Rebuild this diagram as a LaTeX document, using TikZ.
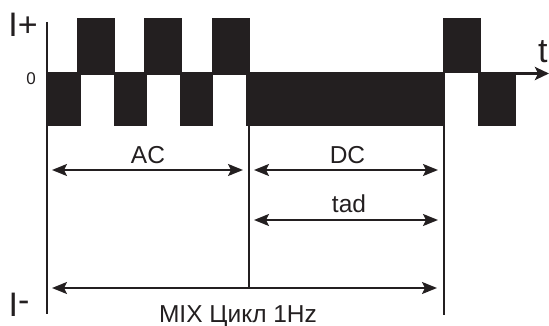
\documentclass[tikz,border=0pt]{standalone}
\usepackage{fontspec}
\setmainfont{Liberation Sans}
\usetikzlibrary{arrows.meta}
\definecolor{ink}{HTML}{231F20}
\begin{document}
\begin{tikzpicture}[x=1pt,y=-1pt,
  blk/.style={fill=ink,draw=none},
  axisline/.style={draw=ink,line width=2pt},
  dim/.style={draw=ink,line width=2pt,{Stealth[length=15pt,width=12pt,inset=3pt]}-{Stealth[length=15pt,width=12pt,inset=3pt]},shorten <=5pt,shorten >=6pt},
  lbl/.style={text=ink,inner sep=0pt,anchor=base,font=\fontsize{24.5}{24.5}\selectfont},
  big/.style={text=ink,inner sep=0pt,anchor=base,font=\fontsize{34}{34}\selectfont}]
\useasboundingbox (0,0) rectangle (549,326);
% blocks
\foreach \a/\b in {77/115,144/182,212/250,443/481}
  \fill[blk] (\a,18) rectangle (\b,73);
\foreach \a/\b in {47/81,114/147,180/213,246/443,478/516}
  \fill[blk] (\a,73) rectangle (\b,126);
% coordinates
\coordinate (o) at (47,73.5);
\coordinate (gapL) at (443,73.5);
\coordinate (gapR) at (478,73.5);
\coordinate (tend) at (549,73.5);
\coordinate (vtop) at (47,22);
\coordinate (vbot) at (47,314);
\coordinate (m1) at (249,126);
\coordinate (m2) at (249,288);
\coordinate (r1) at (444,73);
\coordinate (r2) at (444,315);
\coordinate (acL) at (47,170);
\coordinate (acR) at (249,170);
\coordinate (dcL) at (249,170);
\coordinate (dcR) at (444,170);
\coordinate (tdL) at (249,220);
\coordinate (tdR) at (444,220);
\coordinate (mxL) at (47,288);
\coordinate (mxR) at (444,288);
% axes
\draw[draw=ink,line width=3pt] (o) -- (gapL);
\draw[draw=ink,line width=3pt,-{Stealth[length=14pt,width=13pt,inset=3pt]}] (gapR) -- (tend);
\draw[axisline] (vtop) -- (vbot);
\draw[axisline] (m1) -- (m2);
\draw[axisline] (r1) -- (r2);
% dimension arrows
\draw[dim] (acL) -- (acR);
\draw[dim] (dcL) -- (dcR);
\draw[dim] (tdL) -- (tdR);
\draw[dim,shorten >=7pt] (mxL) -- (mxR);
% labels
\node[lbl] (ac) at (148,164) {AC};
\node[lbl] (dc) at (347.5,164) {DC};
\node[lbl] (tad) at (349,212) {tad};
\node[lbl] (mix) at (238,322) {MIX Цикл 1Hz};
\node[text=ink,inner sep=0pt,anchor=base,font=\fontsize{17}{17}\selectfont] (zero) at (31,85) {0};
\node[big] (ip) at (23,37) {I+};
\node[big] (im) at (19,316) {I\raisebox{5pt}{-}};
\node[big,anchor=base west] (t) at (538,63) {t};
\end{tikzpicture}
\end{document}
